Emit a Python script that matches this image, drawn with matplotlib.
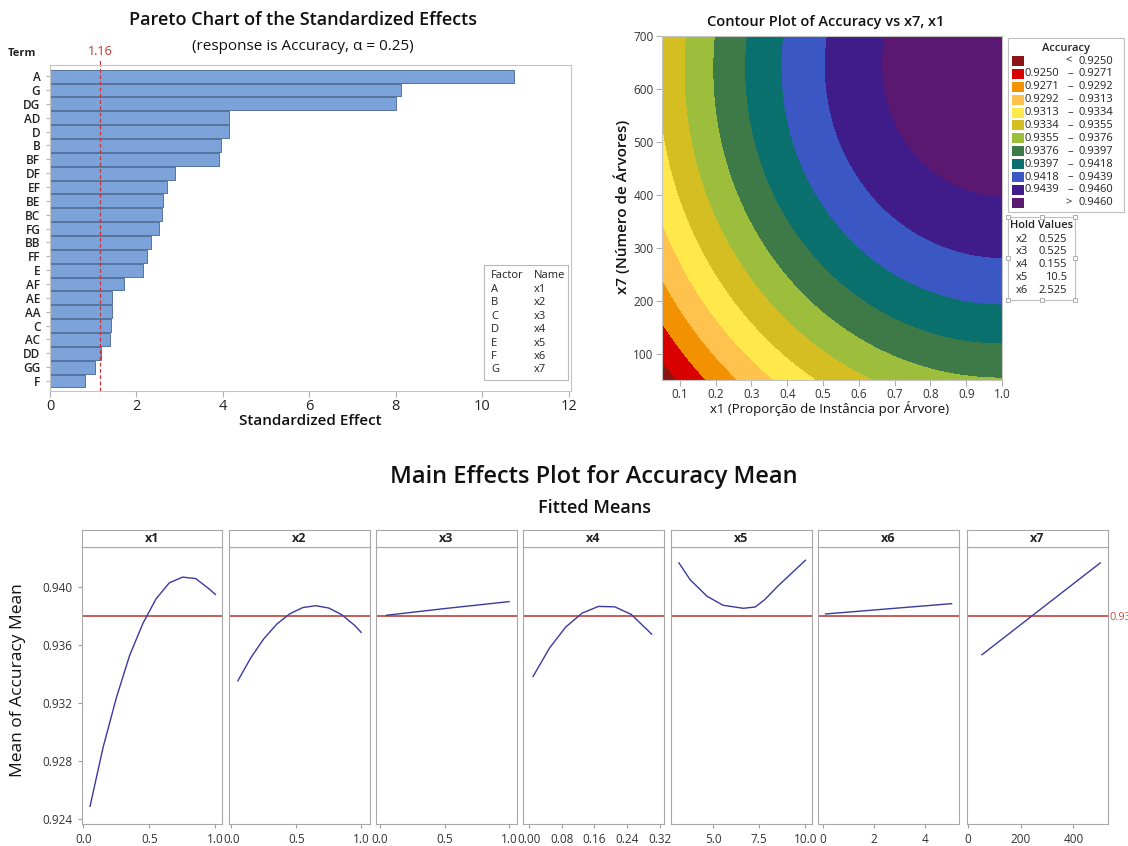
import numpy as np
import matplotlib.pyplot as plt
from matplotlib.patches import Rectangle

plt.rcParams['font.family'] = ['Open Sans', 'DejaVu Sans']

W, H = 1128, 846

# ---------------- Pareto chart data ----------------
terms = ['A', 'G', 'DG', 'AD', 'D', 'B', 'BF', 'DF', 'EF', 'BE', 'BC', 'FG',
         'BB', 'FF', 'E', 'AF', 'AE', 'AA', 'C', 'AC', 'DD', 'GG', 'F']
effects = [10.74, 8.12, 8.00, 4.15, 4.13, 3.96, 3.92, 2.90, 2.70, 2.62, 2.58, 2.51,
           2.34, 2.24, 2.14, 1.70, 1.44, 1.43, 1.40, 1.39, 1.17, 1.03, 0.82]
ref_effect = 1.16
factor_letters = ['A', 'B', 'C', 'D', 'E', 'F', 'G']
factor_names = ['x1', 'x2', 'x3', 'x4', 'x5', 'x6', 'x7']

# ---------------- Contour data ----------------
acc_levels = [0.9250, 0.9271, 0.9292, 0.9313, 0.9334, 0.9355,
              0.9376, 0.9397, 0.9418, 0.9439, 0.9460]
level_colors = ['#8b1414', '#d90000', '#f39200', '#ffc34d', '#ffe94a', '#d4be22',
                '#9dbe3c', '#3e7a47', '#0a706e', '#3b57c4', '#3f1c89', '#5b1870']
hold_names = ['x2', 'x3', 'x4', 'x5', 'x6']
hold_values = ['0.525', '0.525', '0.155', '10.5', '2.525']
# fitted response surface: const, x1, x7, x1^2, x7^2, x1*x7
surf_coefs = [0.920567, 0.030156, 3.654e-5, -0.01512, -2.877e-8, 1.05e-6]

# ---------------- Main effects data ----------------
x1_vals = [0.05, 0.15, 0.25, 0.35, 0.45, 0.55, 0.65, 0.75, 0.85, 0.95, 1.0]
x1_mean = [0.9249, 0.9290, 0.9324, 0.9353, 0.9375, 0.9392, 0.9403, 0.9407, 0.9406, 0.9399, 0.9395]
x2_vals = [0.05, 0.15, 0.25, 0.35, 0.45, 0.55, 0.65, 0.75, 0.85, 0.95, 1.0]
x2_mean = [0.93355, 0.93514, 0.93645, 0.93746, 0.93817, 0.93860, 0.93873, 0.93857, 0.93811, 0.93737, 0.93689]
x3_vals = [0.05, 0.5, 1.0]
x3_mean = [0.93807, 0.93853, 0.93901]
x4_vals = [0.01, 0.05, 0.09, 0.13, 0.17, 0.21, 0.25, 0.30]
x4_mean = [0.93385, 0.93580, 0.93726, 0.93822, 0.93868, 0.93865, 0.93813, 0.93677]
x5_vals = [3.15, 3.75, 4.67, 5.54, 6.63, 7.28, 7.8, 8.5, 10.0]
x5_mean = [0.94168, 0.94053, 0.93938, 0.93876, 0.93855, 0.93864, 0.93915, 0.94007, 0.94186]
x6_vals = [0.1, 5.03]
x6_mean = [0.93816, 0.93887]
x7_vals = [53, 502]
x7_mean = [0.93535, 0.94168]
grand_mean = 0.938

me_names = ['x1', 'x2', 'x3', 'x4', 'x5', 'x6', 'x7']
me_x = [x1_vals, x2_vals, x3_vals, x4_vals, x5_vals, x6_vals, x7_vals]
me_y = [x1_mean, x2_mean, x3_mean, x4_mean, x5_mean, x6_mean, x7_mean]
me_ticks = [[0.0, 0.5, 1.0], [0.0, 0.5, 1.0], [0.0, 0.5, 1.0],
            [0.0, 0.08, 0.16, 0.24, 0.32], [5.0, 7.5, 10.0], [0, 2, 4], [0, 200, 400]]
me_ticklabels = [['0.0', '0.5', '1.0'], ['0.0', '0.5', '1.0'], ['0.0', '0.5', '1.0'],
                 ['0.00', '0.08', '0.16', '0.24', '0.32'], ['5.0', '7.5', '10.0'],
                 ['0', '2', '4'], ['0', '200', '400']]
me_xlim = [(-0.013, 1.051), (-0.018, 1.064), (-0.031, 1.057), (-0.0146, 0.329),
           (2.72, 10.33), (-0.195, 5.30), (-3.8, 529.5)]


def box(l, t, r, b):
    return [l / W, 1 - b / H, (r - l) / W, (b - t) / H]


fig = plt.figure(figsize=(W / 100, H / 100), dpi=100)

frame_col = '#c4c4c4'
tick_col = '#333333'

# ---------------- Pareto ----------------
ax = fig.add_axes(box(50, 65, 571, 391))
ypos = np.arange(len(terms))
ax.barh(ypos, effects, height=0.93, color='#7ba3d9', edgecolor='#55739c', linewidth=0.7)
ax.axvline(ref_effect, color='#d03030', ls=(0, (3, 2)), lw=0.9)
ax.set_ylim(22.72, -0.8)
ax.set_xlim(0, 12.05)
ax.set_yticks(ypos, terms)
ax.set_xticks(range(0, 13, 2))
ax.tick_params(axis='y', length=3, color='#b0b0b0', labelsize=8.5, labelcolor='#222222', pad=4)
ax.tick_params(axis='x', length=4, color='#b0b0b0', labelsize=10.5, labelcolor='#222222', pad=2)
for lab in ax.get_yticklabels():
    lab.set_fontweight('semibold')
for s in ax.spines.values():
    s.set_color(frame_col)
ax.plot([ref_effect, ref_effect], [1.0, 1.012], color='#d03030', lw=0.8,
        transform=ax.get_xaxis_transform(), clip_on=False)
ax.text(ref_effect, 1.02, '1.16', transform=ax.get_xaxis_transform(), ha='center',
        va='bottom', color='#c0302b', fontsize=9)

# ---------------- Contour ----------------
cax = fig.add_axes(box(662, 36, 1002, 380))
g1 = np.linspace(0.05, 1.0, 300)
g7 = np.linspace(50, 700, 300)
X1, X7 = np.meshgrid(g1, g7)
c = surf_coefs
Z = c[0] + c[1] * X1 + c[2] * X7 + c[3] * X1 ** 2 + c[4] * X7 ** 2 + c[5] * X1 * X7
cax.contourf(X1, X7, Z, levels=[0.0] + acc_levels + [1.0], colors=level_colors)
cax.set_xlim(0.05, 1.0)
cax.set_ylim(50, 700)
cax.set_xticks(np.round(np.arange(0.1, 1.01, 0.1), 1))
cax.set_xticklabels(['0.1', '0.2', '0.3', '0.4', '0.5', '0.6', '0.7', '0.8', '0.9', '1.0'])
cax.set_yticks(range(100, 701, 100))
cax.tick_params(length=4, color='#b0b0b0', labelsize=8.5, labelcolor=tick_col, pad=2)
for s in cax.spines.values():
    s.set_color(frame_col)

# ---------------- Main effects ----------------
lefts = [81.7, 229, 376, 523, 671, 818, 967]
pw = 140.5
for i, name in enumerate(me_names):
    l = lefts[i]
    a = fig.add_axes(box(l, 546.5, l + pw, 824))
    a.axhline(grand_mean, color='#c0504d', lw=1.3)
    a.plot(me_x[i], me_y[i], color='#3a3aa0', lw=1.0)
    a.set_xlim(*me_xlim[i])
    a.set_ylim(0.92368, 0.94281)
    a.set_xticks(me_ticks[i], me_ticklabels[i])
    if i == 0:
        a.set_yticks([0.924, 0.928, 0.932, 0.936, 0.940])
        a.set_yticklabels(['0.924', '0.928', '0.932', '0.936', '0.940'])
    else:
        a.set_yticks([])
    a.tick_params(length=3, color='#a0a0a0', labelsize=8.5, labelcolor=tick_col)
    for s in a.spines.values():
        s.set_color('#a8a8a8')
    st = fig.add_axes(box(l, 530, l + pw, 546.5))
    st.set_xticks([])
    st.set_yticks([])
    for s in st.spines.values():
        s.set_color('#a8a8a8')
    st.text(0.5, 0.5, name, ha='center', va='center', fontsize=9, weight='bold',
            color='#222222', transform=st.transAxes)

# ---------------- overlay (texts, legend boxes) ----------------
ov = fig.add_axes([0, 0, 1, 1])
ov.set_xlim(0, W)
ov.set_ylim(H, 0)
ov.axis('off')
ov.patch.set_alpha(0)

ov.text(303, 20, 'Pareto Chart of the Standardized Effects', ha='center', va='center',
        fontsize=13, weight='semibold', color='#111111')
ov.text(303, 47, '(response is Accuracy, \u03b1 = 0.25)', ha='center', va='center',
        fontsize=11, color='#111111')
ov.text(22, 53, 'Term', ha='center', va='center', fontsize=8, weight='bold', color='#222222')
ov.text(310, 421, 'Standardized Effect', ha='center', va='center', fontsize=11,
        weight='semibold', color='#111111')

# factor table
ov.add_patch(Rectangle((484, 265), 84, 115, facecolor='white', edgecolor='#b8b8b8', lw=0.8))
ov.text(491, 276, 'Factor', fontsize=8, va='center', color='#222222')
ov.text(534, 276, 'Name', fontsize=8, va='center', color='#222222')
for k, (fl, fn) in enumerate(zip(factor_letters, factor_names)):
    yy = 289.5 + k * 13.4
    ov.text(491, yy, fl, fontsize=8, va='center', color='#222222')
    ov.text(534, yy, fn, fontsize=8, va='center', color='#222222')

ov.text(826, 22, 'Contour Plot of Accuracy vs x7, x1', ha='center', va='center',
        fontsize=10.5, weight='semibold', color='#111111')
ov.text(622, 207, 'x7 (N\u00famero de \u00c1rvores)', ha='center', va='center', rotation=90,
        fontsize=11, weight='semibold', color='#111111')
ov.text(830, 409, 'x1 (Propor\u00e7\u00e3o de Inst\u00e2ncia por \u00c1rvore)', ha='center',
        va='center', fontsize=9.5, color='#111111')

# contour legend
ov.add_patch(Rectangle((1008, 38), 116, 174, facecolor='white', edgecolor='#c0c0c0', lw=0.8))
ov.text(1066, 48, 'Accuracy', ha='center', va='center', fontsize=8, weight='semibold',
        color='#222222')
n = len(level_colors)
for k in range(n):
    yy = 61 + k * 12.9
    ov.add_patch(Rectangle((1012, yy - 5), 12, 10, facecolor=level_colors[k], edgecolor='none'))
    if k == 0:
        ov.text(1069, yy, '<', ha='center', va='center', fontsize=8, color='#222222')
        ov.text(1113, yy, '%.4f' % acc_levels[0], ha='right', va='center', fontsize=8, color='#222222')
    elif k == n - 1:
        ov.text(1069, yy, '>', ha='center', va='center', fontsize=8, color='#222222')
        ov.text(1113, yy, '%.4f' % acc_levels[-1], ha='right', va='center', fontsize=8, color='#222222')
    else:
        ov.text(1059, yy, '%.4f' % acc_levels[k - 1], ha='right', va='center', fontsize=8, color='#222222')
        ov.text(1070, yy, '\u2013', ha='center', va='center', fontsize=8, color='#222222')
        ov.text(1113, yy, '%.4f' % acc_levels[k], ha='right', va='center', fontsize=8, color='#222222')

# hold values box
hx0, hy0, hx1, hy1 = 1008, 217, 1075, 300
ov.add_patch(Rectangle((hx0, hy0), hx1 - hx0, hy1 - hy0, facecolor='white',
                       edgecolor='#c0c0c0', lw=0.8))
for hx in (hx0, (hx0 + hx1) / 2, hx1):
    for hy in (hy0, (hy0 + hy1) / 2, hy1):
        if hx == (hx0 + hx1) / 2 and hy == (hy0 + hy1) / 2:
            continue
        ov.add_patch(Rectangle((hx - 2, hy - 2), 4, 4, facecolor='white',
                               edgecolor='#a0a0a0', lw=0.6))
ov.text(1041, 226, 'Hold Values', ha='center', va='center', fontsize=8, weight='semibold',
        color='#222222')
for k, (hn, hv) in enumerate(zip(hold_names, hold_values)):
    yy = 239 + k * 12.8
    ov.text(1016, yy, hn, va='center', fontsize=8, color='#222222')
    ov.text(1067, yy, hv, ha='right', va='center', fontsize=8, color='#222222')

# main effects titles
ov.text(594, 477, 'Main Effects Plot for Accuracy Mean', ha='center', va='center',
        fontsize=17, weight='semibold', color='#111111')
ov.text(594, 508, 'Fitted Means', ha='center', va='center', fontsize=13,
        weight='semibold', color='#111111')
ov.text(18, 680, 'Mean of Accuracy Mean', ha='center', va='center', rotation=90,
        fontsize=12.5, color='#111111')
ov.text(1109, 617, '0.938', va='center', fontsize=8, color='#c0504d')

fig.savefig('out.png', dpi=100)
